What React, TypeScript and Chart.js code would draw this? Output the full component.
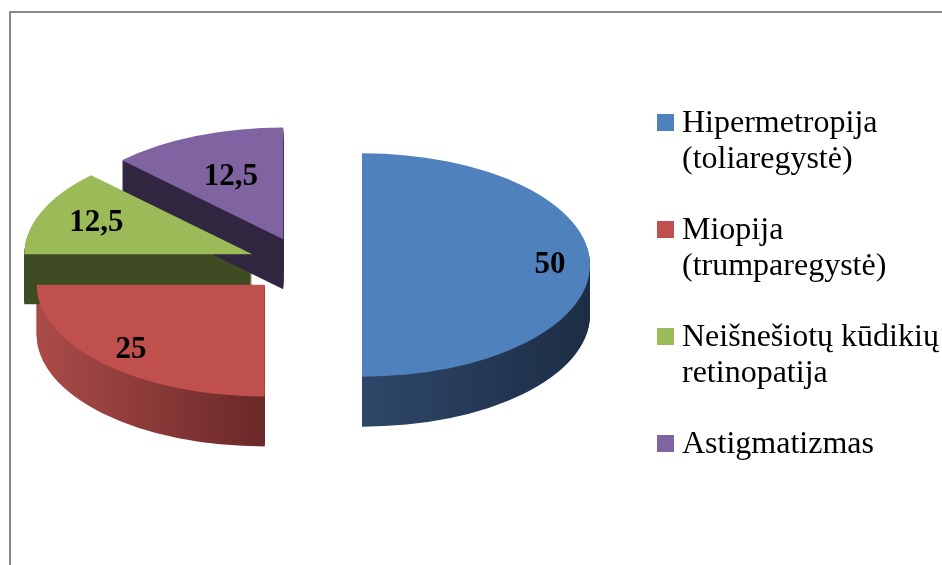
import React, { useEffect, useRef } from "react";
import { Chart, registerables } from "chart.js";

Chart.register(...registerables);

// ---- data ----
const categories: string[][] = [
  ["Hipermetropija", "(toliaregystė)"],
  ["Miopija", "(trumparegystė)"],
  ["Neišnešiotų kūdikių", "retinopatija"],
  ["Astigmatizmas"],
];
const values: number[] = [50, 25, 12.5, 12.5];
const topColors: string[] = ["#4f81bd", "#c0504d", "#9bbb59", "#8064a2"];
const sideLight: string[] = ["#2e4768", "#aa4b49", "#3f4b23", "#30263f"];
const sideDark: string[] = ["#1d2d45", "#6a2828", "#3f4b23", "#30263f"];

// ---- style constants ----
const RADIUS = 228;
const TILT = 0.49;
const DEPTH = 50;
const EXPLODE = 57;
const LABEL_FRAC = [0.825, 0.83, 0.74, 0.6];
const LEGEND_FONT = "32px 'Liberation Serif', 'Times New Roman', serif";
const LABEL_FONT = "bold 31px 'Liberation Serif', 'Times New Roman', serif";

function fmt(v: number) {
  return String(v).replace(".", ",");
}

function center(chart: any) {
  const a = chart.chartArea;
  return { cx: (a.left + a.right) / 2, cy: (a.top + a.bottom) / 2 };
}

const pie3d = {
  id: "pie3d",
  beforeDraw(chart: any) {
    const ctx = chart.ctx;
    ctx.save();
    ctx.fillStyle = "#ffffff";
    ctx.fillRect(0, 0, chart.width, chart.height);
    ctx.strokeStyle = "#878787";
    ctx.lineWidth = 2;
    ctx.strokeRect(10, 12, 1000, 1000);
    ctx.restore();
  },
  beforeDatasetsDraw(chart: any) {
    const ctx = chart.ctx;
    const { cx, cy } = center(chart);
    const arcs = chart.getDatasetMeta(0).data;
    // explode slices along their bisectors
    arcs.forEach((a: any) => {
      const mid = (a.startAngle + a.endAngle) / 2;
      a.x = cx + Math.cos(mid) * EXPLODE;
      a.y = cy + Math.sin(mid) * EXPLODE;
      a.outerRadius = RADIUS;
    });
    // side walls (extrusion)
    arcs.forEach((a: any, i: number) => {
      let minX = a.x, maxX = a.x;
      for (let t = 0; t <= 40; t++) {
        const ang = a.startAngle + ((a.endAngle - a.startAngle) * t) / 40;
        const x = a.x + Math.cos(ang) * a.outerRadius;
        minX = Math.min(minX, x);
        maxX = Math.max(maxX, x);
      }
      for (let k = DEPTH; k >= 1; k--) {
        ctx.save();
        ctx.translate(0, k);
        ctx.translate(cx, cy);
        ctx.scale(1, TILT);
        ctx.translate(-cx, -cy);
        const g = ctx.createLinearGradient(minX, 0, maxX, 0);
        g.addColorStop(0, sideLight[i]);
        g.addColorStop(1, sideDark[i]);
        ctx.fillStyle = g;
        ctx.beginPath();
        ctx.moveTo(a.x, a.y);
        ctx.arc(a.x, a.y, a.outerRadius, a.startAngle, a.endAngle);
        ctx.closePath();
        ctx.fill();
        ctx.restore();
      }
    });
    // tilt the top faces
    ctx.save();
    ctx.translate(cx, cy);
    ctx.scale(1, TILT);
    ctx.translate(-cx, -cy);
  },
  afterDatasetsDraw(chart: any) {
    const ctx = chart.ctx;
    ctx.restore();
    const { cy } = center(chart);
    const arcs = chart.getDatasetMeta(0).data;
    const vals = chart.data.datasets[0].data;
    ctx.save();
    ctx.font = LABEL_FONT;
    ctx.fillStyle = "#000000";
    ctx.textAlign = "center";
    ctx.textBaseline = "middle";
    arcs.forEach((a: any, i: number) => {
      const mid = (a.startAngle + a.endAngle) / 2;
      const d = LABEL_FRAC[i] * a.outerRadius;
      const ux = a.x + Math.cos(mid) * d;
      const uy = a.y + Math.sin(mid) * d;
      const sy = cy + (uy - cy) * TILT;
      ctx.fillText(fmt(vals[i]), ux, sy);
    });
    ctx.restore();
  },
  afterDraw(chart: any) {
    const ctx = chart.ctx;
    const labels = chart.data.labels as string[][];
    ctx.save();
    ctx.font = LEGEND_FONT;
    ctx.textAlign = "left";
    ctx.textBaseline = "alphabetic";
    labels.forEach((lines, i) => {
      const base = 132 + i * 107;
      ctx.fillStyle = topColors[i];
      ctx.fillRect(657, base - 18, 17, 17);
      ctx.fillStyle = "#000000";
      lines.forEach((ln, j) => ctx.fillText(ln, 682, base + j * 36));
    });
    ctx.restore();
  },
};

export default function App() {
  const ref = useRef<HTMLCanvasElement>(null);
  useEffect(() => {
    const chart = new Chart(ref.current as HTMLCanvasElement, {
      type: "pie",
      data: {
        labels: categories as any,
        datasets: [
          {
            data: values,
            backgroundColor: topColors,
            borderWidth: 0,
            radius: RADIUS,
            clip: false as any,
          } as any,
        ],
      },
      options: {
        animation: false,
        responsive: false,
        events: [],
        layout: { padding: { left: 0, top: 0, right: 332, bottom: 35 } },
        plugins: {
          legend: { display: false },
          tooltip: { enabled: false },
        },
      },
      plugins: [pie3d as any],
    });
    return () => chart.destroy();
  }, []);
  return (
    <div style={{ position: "fixed", left: 0, top: 0, width: 942, height: 565, background: "#fff" }}>
      <canvas ref={ref} width={942} height={565} style={{ display: "block", width: 942, height: 565 }} />
    </div>
  );
}
